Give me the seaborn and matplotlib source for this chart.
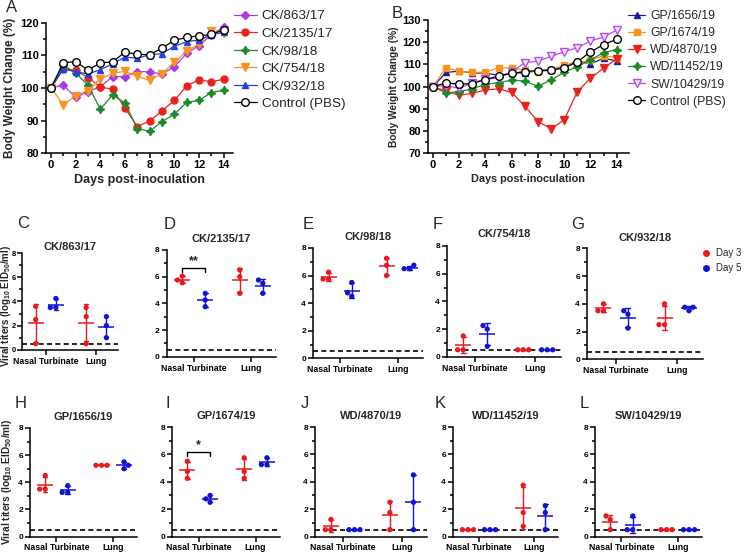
import numpy as np
import pandas as pd
import matplotlib
matplotlib.use('Agg')
import matplotlib.pyplot as plt
import seaborn as sns
from matplotlib.lines import Line2D
from matplotlib.ticker import MultipleLocator

sns.set_theme(style='ticks')
plt.rcParams['font.family'] = ['Liberation Sans', 'DejaVu Sans']
plt.rcParams['mathtext.fontset'] = 'custom'
plt.rcParams['mathtext.rm'] = 'Liberation Sans'
plt.rcParams['mathtext.bf'] = 'Liberation Sans:bold'

# ─── Body weight data (A, B) ─────────────────────────────────
days = list(range(15))

a_labels = ['CK/863/17', 'CK/2135/17', 'CK/98/18', 'CK/754/18', 'CK/932/18', 'Control (PBS)']
a_ck863 = [100, 100.9, 97.1, 98.9, 100.4, 103.5, 103.5, 105.0, 105.0, 104.3, 106.5, 110.6, 113.0, 116.3, 118.8]
a_ck2135 = [100, 105.8, 105.4, 103.2, 100.3, 99.6, 93.8, 88.2, 89.9, 93.0, 96.2, 100.7, 102.5, 101.9, 102.7]
a_ck98 = [100, 107.0, 104.6, 100.9, 93.5, 97.9, 95.4, 87.5, 86.8, 89.7, 92.0, 95.6, 96.2, 98.6, 99.3]
a_ck754 = [100, 94.9, 97.6, 99.2, 102.8, 104.5, 105.1, 103.6, 102.3, 104.4, 107.9, 111.2, 113.5, 117.5, 116.8]
a_ck932 = [100, 105.8, 105.0, 104.3, 105.6, 107.4, 109.5, 109.1, 110.2, 110.5, 112.8, 114.2, 114.7, 116.3, 117.0]
a_pbs = [100, 107.7, 108.1, 105.5, 107.7, 108.0, 111.0, 110.3, 110.2, 112.2, 114.6, 115.5, 116.0, 116.4, 117.9]

b_labels = ['GP/1656/19', 'GP/1674/19', 'WD/4870/19', 'WD/11452/19', 'SW/10429/19', 'Control (PBS)']
b_gp1656 = [100, 106.4, 107.0, 106.2, 106.1, 105.1, 106.0, 106.3, 107.1, 107.7, 108.9, 111.7, 110.2, 112.8, 111.6]
b_gp1674 = [100, 108.6, 106.9, 106.4, 106.5, 108.5, 108.5, 107.3, 106.7, 107.4, 109.8, 110.6, 111.9, 114.0, 113.1]
b_wd4870 = [100, 98.0, 96.1, 97.0, 98.5, 99.0, 97.4, 91.3, 84.3, 81.1, 85.0, 97.7, 103.8, 108.3, 112.5]
b_wd11452 = [100, 97.1, 97.8, 99.0, 101.1, 101.7, 103.0, 102.5, 100.2, 103.0, 106.5, 109.0, 112.0, 115.3, 116.7]
b_sw10429 = [100, 100.5, 99.2, 101.8, 103.4, 103.8, 106.6, 110.8, 111.5, 113.6, 115.7, 117.5, 120.5, 122.4, 125.4]
b_pbs = [100, 101.7, 101.1, 101.4, 103.2, 104.8, 106.0, 106.8, 107.2, 107.4, 108.4, 111.2, 115.6, 118.9, 121.3]

# ─── Viral titer data (C-L) ──────────────────────────────────
# order of each list: NT day3 x3, NT day5 x3, Lung day3 x3, Lung day5 x3
tissues = ['Nasal Turbinate', 'Lung']
day_levels = ['Day 3', 'Day 5']
tissue_col = ['Nasal Turbinate'] * 6 + ['Lung'] * 6
day_col = (['Day 3'] * 3 + ['Day 5'] * 3) * 2

titer_ck863 = [3.6, 2.5, 0.5, 4.25, 3.5, 3.5, 3.5, 2.75, 0.5, 2.75, 2.0, 1.0]
titer_ck2135 = [6.05, 5.55, 5.75, 4.75, 4.25, 3.75, 6.5, 6.0, 4.75, 5.75, 5.5, 4.75]
titer_ck98 = [6.25, 5.75, 5.75, 5.5, 4.5, 4.75, 7.25, 6.75, 6.0, 6.5, 6.75, 6.5]
titer_ck754 = [1.5, 0.5, 0.5, 2.25, 0.75, 2.0, 0.5, 0.5, 0.5, 0.5, 0.5, 0.5]
titer_ck932 = [4.0, 3.5, 3.5, 3.5, 2.25, 3.25, 4.0, 2.5, 2.5, 3.5, 3.75, 3.75]
titer_gp1656 = [4.5, 3.5, 3.5, 3.75, 3.25, 3.25, 5.25, 5.25, 5.25, 5.5, 5.0, 5.25]
titer_gp1674 = [5.5, 4.75, 4.25, 3.0, 2.5, 2.75, 5.75, 4.75, 4.25, 5.75, 5.25, 5.25]
titer_wd4870 = [1.25, 0.5, 0.5, 0.5, 0.5, 0.5, 2.5, 1.75, 0.5, 4.5, 2.5, 0.5]
titer_wd11452 = [0.5, 0.5, 0.5, 0.5, 0.5, 0.5, 3.75, 1.75, 0.75, 2.25, 1.75, 0.5]
titer_sw10429 = [1.5, 1.25, 0.5, 1.5, 0.5, 0.5, 0.5, 0.5, 0.5, 0.5, 0.5, 0.5]

titer_titles = ['CK/863/17', 'CK/2135/17', 'CK/98/18', 'CK/754/18', 'CK/932/18',
                'GP/1656/19', 'GP/1674/19', 'WD/4870/19', 'WD/11452/19', 'SW/10429/19']
day_colors = {'Day 3': '#E8191F', 'Day 5': '#1212D2'}

# ─── Figure helpers ──────────────────────────────────────────
W, H = 750, 556
fig = plt.figure(figsize=(W / 100, H / 100), dpi=100)


def px_axes(x0, x1, y0, y1):
    return fig.add_axes([x0 / W, 1 - y1 / H, (x1 - x0) / W, (y1 - y0) / H])


def style_axes(ax, fs):
    sns.despine(ax=ax)
    for s in ['left', 'bottom']:
        ax.spines[s].set_linewidth(1.1)
        ax.spines[s].set_color('black')
    ax.tick_params(which='both', direction='out', width=1.1, labelsize=fs, colors='black', pad=1.5)
    ax.tick_params(which='major', length=3.5)
    ax.tick_params(which='minor', length=2.2)
    for lab in ax.get_xticklabels() + ax.get_yticklabels():
        lab.set_fontweight('bold')


def weight_panel(ax, series, labels, styles, ylim, xmax):
    for vals, lab, (c, m, ms, fc) in zip(series, labels, styles):
        sns.lineplot(x=days, y=vals, ax=ax, label=lab, color=c, marker=m, markersize=ms,
                     markerfacecolor=fc, markeredgecolor=c, markeredgewidth=1.0, linewidth=0.9)
    ax.set_ylim(*ylim)
    ax.set_xlim(-0.4, xmax)
    ax.xaxis.set_major_locator(MultipleLocator(2))
    ax.xaxis.set_minor_locator(MultipleLocator(1))
    ax.yaxis.set_major_locator(MultipleLocator(10))
    ax.yaxis.set_minor_locator(MultipleLocator(5))


star = (4, 1, 0)

# ─── A ───────────────────────────────────────────────────────
axA = px_axes(46, 233, 22.7, 153.3)
a_styles = [('#A63CE8', 'D', 4.5, '#A63CE8'), ('#E8231F', 'o', 5, '#E8231F'),
            ('#1E8A2A', star, 6, '#1E8A2A'), ('#F7931E', 'v', 6, '#F7931E'),
            ('#2142E6', '^', 5, '#2142E6'), ('black', 'o', 5.5, 'white')]
weight_panel(axA, [a_ck863, a_ck2135, a_ck98, a_ck754, a_ck932, a_pbs], a_labels, a_styles, (80, 120), 14.75)
axA.set_xlabel('Days post-inoculation', fontsize=9, fontweight='bold', labelpad=3)
axA.set_ylabel('Body Weight Change (%)', fontsize=8.5, fontweight='bold', labelpad=3)
style_axes(axA, 8)
axA.legend(loc='upper left', bbox_to_anchor=(234 / W, 1 - 10 / H), bbox_transform=fig.transFigure,
           frameon=False, fontsize=9.7, labelspacing=0.38, handlelength=1.7, handletextpad=0.35,
           borderpad=0, borderaxespad=0)

# ─── B ───────────────────────────────────────────────────────
axB = px_axes(427.7, 629, 20, 153.3)
b_styles = [('#1A1A9E', '^', 5, '#1A1A9E'), ('#F7941D', 's', 4.5, '#F7941D'),
            ('#E8231F', 'v', 5.5, '#E8231F'), ('#1E8A2A', star, 6, '#1E8A2A'),
            ('#B54AF0', 'v', 5.5, '#F4E4FF'), ('black', 'o', 5.5, 'white')]
weight_panel(axB, [b_gp1656, b_gp1674, b_wd4870, b_wd11452, b_sw10429, b_pbs], b_labels, b_styles, (70, 130), 14.94)
axB.set_xlabel('Days post-inoculation', fontsize=7.8, fontweight='bold', labelpad=3)
axB.set_ylabel('Body Weight Change (%)', fontsize=7.3, fontweight='bold', labelpad=2)
style_axes(axB, 8)
axB.legend(loc='upper left', bbox_to_anchor=(628 / W, 1 - 10 / H), bbox_transform=fig.transFigure,
           frameon=False, fontsize=8.8, labelspacing=0.42, handlelength=1.4, handletextpad=0.4,
           borderpad=0, borderaxespad=0)

# ─── C-L ─────────────────────────────────────────────────────
titer_sets = [titer_ck863, titer_ck2135, titer_ck98, titer_ck754, titer_ck932,
              titer_gp1656, titer_gp1674, titer_wd4870, titer_wd11452, titer_sw10429]
rects = [(22, 118, 253.3, 349.7), (166.7, 276, 250, 356.7), (313, 423, 248, 358.3),
         (447, 561, 246, 356.7), (587, 703, 248.3, 359.3),
         (30, 137, 428, 536.5), (172, 280, 427, 536.5), (315, 427, 427, 536.5),
         (453, 558, 427, 536.5), (595, 702, 427, 536.5)]
title_pads = [2.5, 5.5, 5.5, 6.5, 5.5, 5.5, 5.5, 5.5, 5.5, 5.5]

axes_t = []
for vals, title, rect, tpad in zip(titer_sets, titer_titles, rects, title_pads):
    ax = px_axes(*rect)
    df = pd.DataFrame({'tissue': tissue_col, 'day': day_col, 'titer': vals})
    sns.swarmplot(data=df, x='tissue', y='titer', hue='day', order=tissues, hue_order=day_levels,
                  palette=day_colors, dodge=True, size=3.8, legend=False, ax=ax, zorder=3)
    sns.pointplot(data=df, x='tissue', y='titer', hue='day', order=tissues, hue_order=day_levels,
                  palette=day_colors, dodge=0.4, errorbar='sd', capsize=0.08, markers='_',
                  linestyles='none', markersize=11, markeredgewidth=1.1,
                  err_kws={'linewidth': 1.0}, legend=False, ax=ax)
    ax.axhline(0.5, color='black', ls=(0, (3, 2)), lw=1.2, zorder=1)
    ax.set_ylim(0, 8)
    ax.set_xlim(-0.47, 1.43)
    ax.yaxis.set_major_locator(MultipleLocator(2))
    ax.yaxis.set_minor_locator(MultipleLocator(1))
    ax.set_xlabel('')
    ax.set_ylabel('')
    ax.set_title(title, fontsize=8, fontweight='bold', pad=tpad)
    style_axes(ax, 6)
    ax.tick_params(axis='x', labelsize=6.3)
    axes_t.append(ax)

axes_t[0].tick_params(axis='y', pad=0.8, labelsize=5.5)

# significance brackets
axD, axI = axes_t[1], axes_t[6]
axD.plot([-0.2, -0.2, 0.2, 0.2], [6.37, 6.67, 6.67, 6.37], color='black', lw=1)
axD.text(0, 6.72, '**', ha='center', va='bottom', fontsize=9, fontweight='bold')
axI.plot([-0.2, -0.2, 0.2, 0.2], [5.89, 6.18, 6.18, 5.89], color='black', lw=1)
axI.text(0, 6.2, '*', ha='center', va='bottom', fontsize=9, fontweight='bold')

# Day legend next to G
handles = [Line2D([], [], marker='o', ls='none', color=day_colors[d], markersize=4) for d in day_levels]
axes_t[4].legend(handles, day_levels, loc='upper left', bbox_to_anchor=(702 / W, 1 - 248 / H),
                 bbox_transform=fig.transFigure, frameon=False, fontsize=7, handlelength=0.8,
                 handletextpad=0.6, labelspacing=0.55, borderpad=0, borderaxespad=0)

# y labels for titer rows
ylab = r'Viral titers (log$_{\mathbf{10}}$ EID$_{\mathbf{50}}$/ml)'
fig.text(6 / W, 1 - 306 / H, ylab, rotation=90, ha='center', va='center', fontsize=7, fontweight='bold')
fig.text(7 / W, 1 - 482 / H, ylab, rotation=90, ha='center', va='center', fontsize=7.3, fontweight='bold')

# panel letters
letters = {'A': (12, 8), 'B': (397, 13), 'C': (23, 223), 'D': (170, 225), 'E': (308, 225),
           'F': (438, 225), 'G': (578, 225), 'H': (21, 404), 'I': (168, 404), 'J': (305, 403),
           'K': (440, 403), 'L': (584, 403)}
for k, (x, y) in letters.items():
    fig.text(x / W, 1 - y / H, k, fontsize=12, ha='center', va='center')

fig.savefig('out.png', dpi=100)
